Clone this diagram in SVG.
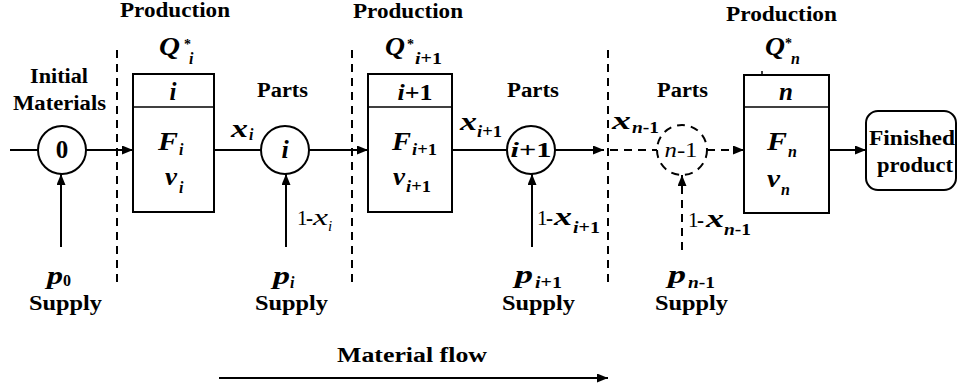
<svg xmlns="http://www.w3.org/2000/svg" width="959" height="389" viewBox="0 0 959 389">
<style>
text{font-family:'Liberation Serif','Times New Roman',serif;fill:#000}
.lb{font-weight:bold;font-size:20px}
.mi{font-weight:bold;font-style:italic}
.ri{font-style:italic}
.b{font-weight:bold}
.ln{stroke:#000;stroke-width:2;fill:none}
.ds{stroke:#000;stroke-width:2;fill:none;stroke-dasharray:8 6}
.box{stroke:#000;stroke-width:2;fill:#fff}
</style>
<defs>
<marker id="ah" markerUnits="userSpaceOnUse" markerWidth="11" markerHeight="9" refX="11" refY="4.5" orient="auto">
<path d="M0,0 L11,4.5 L0,9 z" fill="#000"/>
</marker>
</defs>
<rect width="959" height="389" fill="#fff"/>

<g id="stage-dividers">
<line class="ds" x1="117" y1="50" x2="117" y2="285"/>
<line class="ds" x1="352" y1="50" x2="352" y2="285"/>
<line class="ds" x1="608" y1="50" x2="608" y2="285"/>
</g>

<g id="connectors">
<line class="ln" x1="10" y1="150" x2="38" y2="150"/>
<line class="ln" x1="86" y1="150" x2="133" y2="150" marker-end="url(#ah)"/>
<line class="ln" x1="214" y1="150" x2="261" y2="150"/>
<line class="ln" x1="309" y1="150" x2="368" y2="150" marker-end="url(#ah)"/>
<line class="ln" x1="452" y1="150" x2="507" y2="150"/>
<line class="ln" x1="555" y1="150" x2="604" y2="150" marker-end="url(#ah)"/>
<line class="ds" x1="610" y1="150" x2="657" y2="150"/>
<line class="ds" x1="707" y1="150" x2="744" y2="150" marker-end="url(#ah)"/>
<line class="ln" x1="829" y1="150" x2="866" y2="150" marker-end="url(#ah)"/>
<line class="ln" x1="61" y1="247" x2="61" y2="174" marker-end="url(#ah)"/>
<line class="ln" x1="286" y1="247" x2="286" y2="174" marker-end="url(#ah)"/>
<line class="ln" x1="532" y1="247" x2="532" y2="174" marker-end="url(#ah)"/>
<line class="ds" x1="682" y1="250" x2="682" y2="175" marker-end="url(#ah)"/>
<line class="ln" x1="219" y1="378" x2="608" y2="378" marker-end="url(#ah)"/>
</g>

<g id="initial-materials">
<text class="lb" x="30" y="83" font-size="22" textLength="58" lengthAdjust="spacingAndGlyphs">Initial</text>
<text class="lb" x="13" y="110" font-size="22" textLength="93" lengthAdjust="spacingAndGlyphs">Materials</text>
<circle class="box" cx="62" cy="150" r="24"/>
<text class="b" x="62" y="158" font-size="25" text-anchor="middle">0</text>
</g>

<g id="supply-0">
<text class="mi" x="47" y="284" font-size="26" textLength="16" lengthAdjust="spacingAndGlyphs">p</text>
<text class="b" x="63" y="286" font-size="16">0</text>
<text class="lb" x="29" y="310" textLength="73" lengthAdjust="spacingAndGlyphs">Supply</text>
</g>

<g id="production-i">
<text class="lb" x="120" y="17" font-size="19" textLength="110" lengthAdjust="spacingAndGlyphs">Production</text>
<text class="mi" x="159" y="55" font-size="26" textLength="21" lengthAdjust="spacingAndGlyphs">Q</text>
<text class="b" x="184" y="49" font-size="14">*</text>
<text class="mi" x="189" y="64" font-size="16">i</text>
<rect class="box" x="133" y="74" width="81" height="138"/>
<line x1="133" y1="107" x2="214" y2="107" stroke="#000" stroke-width="1.5"/>
<text class="mi" x="173" y="100" font-size="25" text-anchor="middle">i</text>
<text class="mi" x="158" y="150" font-size="26" textLength="20" lengthAdjust="spacingAndGlyphs">F</text>
<text class="mi" x="179" y="155" font-size="16">i</text>
<text class="mi" x="165" y="185" font-size="26" textLength="12" lengthAdjust="spacingAndGlyphs">v</text>
<text class="mi" x="179" y="193" font-size="16">i</text>
</g>

<g id="parts-i">
<text class="lb" x="257" y="97" textLength="51" lengthAdjust="spacingAndGlyphs">Parts</text>
<text class="mi" x="231" y="137" font-size="26" textLength="17" lengthAdjust="spacingAndGlyphs">x</text>
<text class="mi" x="249" y="140" font-size="16">i</text>
<circle class="box" cx="285" cy="150" r="24"/>
<text class="mi" x="285" y="158" font-size="26" text-anchor="middle">i</text>
<text x="297" y="225" font-size="21">1</text>
<text class="b" x="306" y="225" font-size="21">-</text>
<text class="ri" x="313" y="225" font-size="23" textLength="15" lengthAdjust="spacingAndGlyphs">x</text>
<text class="ri" x="328" y="231" font-size="15">i</text>
</g>

<g id="supply-i">
<text class="mi" x="273" y="284" font-size="26" textLength="17" lengthAdjust="spacingAndGlyphs">p</text>
<text class="mi" x="290" y="288" font-size="16">i</text>
<text class="lb" x="255" y="310" textLength="73" lengthAdjust="spacingAndGlyphs">Supply</text>
</g>

<g id="production-i1">
<text class="lb" x="353" y="18" font-size="19" textLength="110" lengthAdjust="spacingAndGlyphs">Production</text>
<text class="mi" x="385" y="55" font-size="26" textLength="20" lengthAdjust="spacingAndGlyphs">Q</text>
<text class="b" x="407" y="49" font-size="14">*</text>
<text class="mi" x="415" y="64" font-size="16" textLength="27" lengthAdjust="spacingAndGlyphs">i<tspan font-style="normal">+1</tspan></text>
<rect class="box" x="368" y="74" width="84" height="138"/>
<line x1="368" y1="107" x2="452" y2="107" stroke="#000" stroke-width="1.5"/>
<text class="mi" x="415" y="100" font-size="24" text-anchor="middle" textLength="35" lengthAdjust="spacingAndGlyphs">i<tspan font-style="normal">+1</tspan></text>
<text class="mi" x="392" y="150" font-size="26" textLength="19" lengthAdjust="spacingAndGlyphs">F</text>
<text class="mi" x="412" y="155" font-size="16" textLength="25" lengthAdjust="spacingAndGlyphs">i<tspan font-style="normal">+1</tspan></text>
<text class="mi" x="393" y="185" font-size="26" textLength="12" lengthAdjust="spacingAndGlyphs">v</text>
<text class="mi" x="406" y="192" font-size="16" textLength="25" lengthAdjust="spacingAndGlyphs">i<tspan font-style="normal">+1</tspan></text>
</g>

<g id="parts-i1">
<text class="lb" x="507" y="97" textLength="52" lengthAdjust="spacingAndGlyphs">Parts</text>
<text class="mi" x="460" y="130" font-size="26" textLength="17" lengthAdjust="spacingAndGlyphs">x</text>
<text class="mi" x="477" y="137" font-size="16" textLength="25" lengthAdjust="spacingAndGlyphs">i<tspan font-style="normal">+1</tspan></text>
<circle class="box" cx="531" cy="150" r="24"/>
<text class="mi" x="531" y="157" font-size="21" text-anchor="middle" textLength="41" lengthAdjust="spacingAndGlyphs">i<tspan font-style="normal">+1</tspan></text>
<text x="537" y="225" font-size="21">1</text>
<text class="b" x="546" y="225" font-size="21">-</text>
<text class="mi" x="554" y="225" font-size="25" textLength="18" lengthAdjust="spacingAndGlyphs">x</text>
<text class="mi" x="573" y="233" font-size="16" textLength="27" lengthAdjust="spacingAndGlyphs">i<tspan font-style="normal">+1</tspan></text>
</g>

<g id="supply-i1">
<text class="mi" x="515" y="283" font-size="26" textLength="18" lengthAdjust="spacingAndGlyphs">p</text>
<text class="mi" x="535" y="288" font-size="16" textLength="27" lengthAdjust="spacingAndGlyphs">i<tspan font-style="normal">+1</tspan></text>
<text class="lb" x="502" y="310" textLength="73" lengthAdjust="spacingAndGlyphs">Supply</text>
</g>

<g id="parts-n1">
<text class="lb" x="657" y="97" textLength="51" lengthAdjust="spacingAndGlyphs">Parts</text>
<text class="mi" x="612" y="129" font-size="26" textLength="19" lengthAdjust="spacingAndGlyphs">x</text>
<text class="mi" x="632" y="133" font-size="16" textLength="27" lengthAdjust="spacingAndGlyphs">n<tspan font-style="normal">-1</tspan></text>
<circle class="ds" cx="682" cy="150" r="25" fill="#fff"/>
<text class="ri" x="681" y="157" font-size="21" text-anchor="middle" textLength="33" lengthAdjust="spacingAndGlyphs">n<tspan font-style="normal">-1</tspan></text>
<text x="688" y="227" font-size="21">1</text>
<text class="b" x="697" y="227" font-size="21">-</text>
<text class="mi" x="706" y="227" font-size="25" textLength="18" lengthAdjust="spacingAndGlyphs">x</text>
<text class="mi" x="724" y="235" font-size="16" textLength="27" lengthAdjust="spacingAndGlyphs">n<tspan font-style="normal">-1</tspan></text>
</g>

<g id="supply-n1">
<text class="mi" x="668" y="283" font-size="26" textLength="18" lengthAdjust="spacingAndGlyphs">p</text>
<text class="mi" x="688" y="288" font-size="16" textLength="27" lengthAdjust="spacingAndGlyphs">n<tspan font-style="normal">-1</tspan></text>
<text class="lb" x="655" y="310" textLength="73" lengthAdjust="spacingAndGlyphs">Supply</text>
</g>

<g id="production-n">
<text class="lb" x="726" y="21" font-size="19" textLength="111" lengthAdjust="spacingAndGlyphs">Production</text>
<text class="mi" x="765" y="55" font-size="26" textLength="20" lengthAdjust="spacingAndGlyphs">Q</text>
<text class="b" x="785" y="48" font-size="14">*</text>
<text class="mi" x="791" y="64" font-size="16">n</text>
<rect class="box" x="744" y="75" width="85" height="138"/>
<line x1="762" y1="71" x2="762" y2="75" stroke="#000" stroke-width="1.5"/>
<line x1="744" y1="107" x2="829" y2="107" stroke="#000" stroke-width="1.5"/>
<text class="mi" x="786" y="100" font-size="25" text-anchor="middle">n</text>
<text class="mi" x="767" y="150" font-size="26" textLength="20" lengthAdjust="spacingAndGlyphs">F</text>
<text class="mi" x="788" y="157" font-size="16">n</text>
<text class="mi" x="767" y="187" font-size="26" textLength="13" lengthAdjust="spacingAndGlyphs">v</text>
<text class="mi" x="781" y="195" font-size="16">n</text>
</g>

<g id="finished-product">
<rect class="box" x="866" y="111" width="90" height="79" rx="12"/>
<text class="lb" x="869" y="145" font-size="21" textLength="86" lengthAdjust="spacingAndGlyphs">Finished</text>
<text class="lb" x="877" y="172" font-size="21" textLength="76" lengthAdjust="spacingAndGlyphs">product</text>
</g>

<g id="material-flow">
<text class="lb" x="337" y="362" textLength="150" lengthAdjust="spacingAndGlyphs">Material  flow</text>
</g>
</svg>
